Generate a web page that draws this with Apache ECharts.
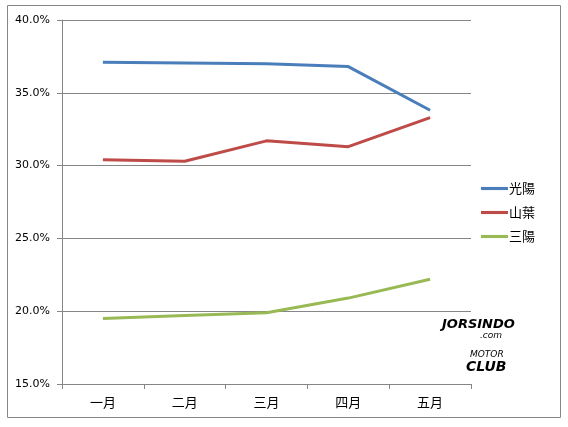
<!DOCTYPE html>
<html><head><meta charset="utf-8">
<script src="https://cdn.jsdelivr.net/npm/echarts@6/dist/echarts.min.js"></script>
<style>html,body{margin:0;padding:0;background:#fff}#c{width:568px;height:427px}</style>
</head><body><div id="c"></div>
<script>
const categories = ['一月','二月','三月','四月','五月'];
const kymco = [37.1, 37.05, 37.0, 36.8, 33.8];
const yamaha = [30.4, 30.3, 31.7, 31.3, 33.3];
const sym = [19.5, 19.7, 19.9, 20.9, 22.2];
const seriesNames = ['光陽','山葉','三陽'];
const colors = ['#4A7EBB','#BE4B48','#98B954'];

const chart = echarts.init(document.getElementById('c'), null, {renderer:'canvas'});
const font = "'DejaVu Sans', Verdana, sans-serif";
const mk = (name, data, color) => ({
  name, type:'line', data, symbol:'none', smooth:false,
  lineStyle:{width:3, color}, itemStyle:{color}, z:3
});
chart.setOption({
  animation:false,
  backgroundColor:'#fff',
  grid:{left:62, top:20, right:97, bottom:43, containLabel:false},
  legend:{
    orient:'vertical', left:476, top:177, itemGap:11, itemWidth:27, itemHeight:14,
    icon:'path://M0,6h26v3H0z',
    textStyle:{fontFamily:"'Noto Sans CJK TC', sans-serif", fontSize:13, color:'#000', padding:[0,0,0,-4]},
    data:seriesNames
  },
  xAxis:{
    type:'category', data:categories, boundaryGap:true,
    axisLine:{lineStyle:{color:'#868686', width:1}},
    axisTick:{show:true, length:5, lineStyle:{color:'#868686'}},
    axisLabel:{fontFamily:"'Noto Sans CJK TC', sans-serif", fontSize:13, color:'#000', margin:12}
  },
  yAxis:{
    type:'value', min:15, max:40, interval:5,
    axisLine:{show:true, lineStyle:{color:'#868686', width:1}},
    axisTick:{show:true, length:5, inside:false, lineStyle:{color:'#868686'}},
    splitLine:{lineStyle:{color:'#868686', width:1}},
    axisLabel:{fontFamily:font, fontSize:11, color:'#000', margin:12,
      formatter:v=>v.toFixed(1)+'%'}
  },
  series:[mk(seriesNames[0],kymco,colors[0]), mk(seriesNames[1],yamaha,colors[1]), mk(seriesNames[2],sym,colors[2])],
  graphic:[
    {type:'rect', shape:{x:7.5,y:5.5,width:553,height:412}, style:{fill:'none', stroke:'#868686', lineWidth:1}, silent:true},
    {type:'text', left:442, top:318, style:{text:'JORSINDO', font:"italic bold 13px 'DejaVu Sans'", fill:'#000'}},
    {type:'text', left:480, top:331, style:{text:'.com', font:"italic 9px 'DejaVu Sans'", fill:'#000'}},
    {type:'text', left:470, top:350, style:{text:'MOTOR', font:"italic 9px 'DejaVu Sans'", fill:'#000'}},
    {type:'text', left:466, top:360, style:{text:'CLUB', font:"italic bold 14px 'DejaVu Sans'", fill:'#000'}}
  ]
});
</script></body></html>
